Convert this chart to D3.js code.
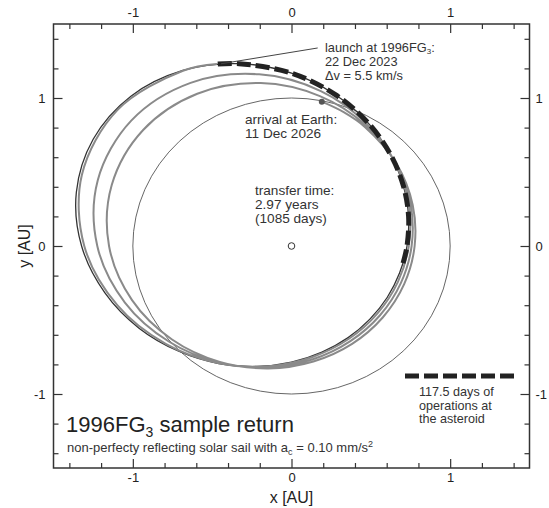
<!DOCTYPE html>
<html>
<head>
<meta charset="utf-8">
<script src="https://cdn.jsdelivr.net/npm/d3@7"></script>
<style>
  body { margin: 0; background: #fff; }
  svg { display: block; font-family: "Liberation Sans", Arial, Helvetica, sans-serif; }
  .tick text { font-size: 13px; fill: #222; }
  .tick line { stroke: #333; }
  .ann { fill: #333; }
</style>
</head>
<body>
<div id="chart"></div>
<script>
// axis ticks (AU)
const majorTicks = [-1, 0, 1];
const minorTicks = [-1.4, -1.2, -0.8, -0.6, -0.4, -0.2, 0.2, 0.4, 0.6, 0.8, 1.2, 1.4];

// Earth orbit radius (AU)
const earthRadius = 1;

// 1996FG3 orbit (x, y in AU)
const asteroidOrbit = [
  [0.728, 0], [0.738, 0.198], [0.705, 0.407], [0.622, 0.622], [0.481, 0.834], [0.274, 1.024],
  [0, 1.168], [-0.330, 1.232], [-0.685, 1.186], [-1.012, 1.012], [-1.250, 0.721], [-1.356, 0.363],
  [-1.323, 0], [-1.177, -0.315], [-0.961, -0.555], [-0.711, -0.711], [-0.458, -0.794], [-0.218, -0.814],
  [0, -0.785], [0.192, -0.717], [0.357, -0.619], [0.494, -0.494], [0.603, -0.348], [0.681, -0.183]
];

// 117.5 days of operations at the asteroid
const stayArc = [
  [0.703, -0.116], [0.728, 0], [0.738, 0.198], [0.705, 0.407], [0.622, 0.622], [0.481, 0.834],
  [0.274, 1.024], [0, 1.168], [-0.330, 1.232], [-0.470, 1.229]
];

// solar sail return trajectory, launch -> arrival at Earth
const transferPath = [
  [-0.470, 1.229], [-0.684, 1.184], [-1.096, 0.920], [-1.321, 0.481], [-1.306, 0], [-1.098, -0.400],
  [-0.790, -0.663], [-0.457, -0.792], [-0.143, -0.812], [0.132, -0.750], [0.362, -0.627], [0.542, -0.455],
  [0.670, -0.244], [0.739, 0], [0.740, 0.269], [0.658, 0.552], [0.476, 0.824], [0.185, 1.047],
  [-0.204, 1.160], [-0.636, 1.102], [-1.010, 0.847], [-1.221, 0.444], [-1.224, 0], [-1.050, -0.382],
  [-0.771, -0.647], [-0.455, -0.787], [-0.144, -0.819], [0.135, -0.765], [0.371, -0.643], [0.558, -0.468],
  [0.689, -0.251], [0.757, 0], [0.752, 0.274], [0.660, 0.554], [0.470, 0.814], [0.179, 1.013],
  [-0.194, 1.101], [-0.594, 1.029], [-0.935, 0.784], [-1.133, 0.412], [-1.150, 0], [-1.005, -0.366],
  [-0.753, -0.632], [-0.452, -0.783], [-0.146, -0.827], [0.138, -0.780], [0.382, -0.661], [0.575, -0.483],
  [0.710, -0.258], [0.776, 0], [0.764, 0.278], [0.662, 0.556], [0.464, 0.803], [0.329, 0.904],
  [0.191, 0.975]
];

const sun = [0, 0];
const launchPoint = [-0.445, 1.231];
const launchLabelAnchor = [0.165, 1.338];
const arrivalPoint = [0.191, 0.975];

const launchLines = ['launch at 1996FG', '22 Dec 2023', '\u0394v = 5.5 km/s'];
const arrivalLines = ['arrival at Earth:', '11 Dec 2026'];
const transferLines = ['transfer time:', '2.97 years', '(1085 days)'];
const legendLines = ['117.5 days of', 'operations at', 'the asteroid'];

const width = 549, height = 508;
const plotLeft = 53.5, plotRight = 529.5, plotTop = 24, plotBottom = 468;

const svg = d3.select('#chart').append('svg')
  .attr('width', width)
  .attr('height', height);

const x = d3.scaleLinear().domain([-1.5, 1.5]).range([plotLeft, plotRight]);
const y = d3.scaleLinear().domain([-1.5, 1.5]).range([plotBottom, plotTop]);

const fmt = d => String(d);

// axes, ticks pointing inward
function addAxis(axisFn, scale, transform, pad) {
  svg.append('g').attr('transform', transform)
    .call(axisFn(scale).tickValues(minorTicks).tickSize(-5).tickFormat(''))
    .call(g => g.select('.domain').remove());
  svg.append('g').attr('transform', transform)
    .call(axisFn(scale).tickValues(majorTicks).tickSize(-9).tickPadding(pad).tickFormat(fmt))
    .call(g => g.select('.domain').remove());
}
addAxis(d3.axisBottom, x, `translate(0,${plotBottom})`, 5);
addAxis(d3.axisTop, x, `translate(0,${plotTop})`, 7);
addAxis(d3.axisLeft, y, `translate(${plotLeft},0)`, 8);
addAxis(d3.axisRight, y, `translate(${plotRight},0)`, 6);
svg.selectAll('.tick line').attr('stroke-width', 1.2);

const line = d3.line().x(d => x(d[0])).y(d => y(d[1]));

// Earth orbit
svg.append('ellipse')
  .attr('cx', x(0)).attr('cy', y(0))
  .attr('rx', x(earthRadius) - x(0))
  .attr('ry', y(0) - y(earthRadius))
  .attr('fill', 'none')
  .attr('stroke', '#555')
  .attr('stroke-width', 0.9);

// asteroid orbit
svg.append('path')
  .datum(asteroidOrbit)
  .attr('d', line.curve(d3.curveCatmullRomClosed.alpha(0.5)))
  .attr('fill', 'none')
  .attr('stroke', '#333')
  .attr('stroke-width', 1.3);

// transfer trajectory
svg.append('path')
  .datum(transferPath)
  .attr('d', line.curve(d3.curveCatmullRom.alpha(0.5)))
  .attr('fill', 'none')
  .attr('stroke', '#8a8a8a')
  .attr('stroke-width', 2);

// stay at asteroid
svg.append('path')
  .datum(stayArc)
  .attr('d', line.curve(d3.curveCatmullRom.alpha(0.5)))
  .attr('fill', 'none')
  .attr('stroke', '#222')
  .attr('stroke-width', 5)
  .attr('stroke-dasharray', '14,5');

// launch leader line
svg.append('line')
  .attr('x1', x(launchPoint[0])).attr('y1', y(launchPoint[1]))
  .attr('x2', x(launchLabelAnchor[0])).attr('y2', y(launchLabelAnchor[1]))
  .attr('stroke', '#444')
  .attr('stroke-width', 1);

// Sun and arrival
svg.append('circle')
  .attr('cx', x(sun[0])).attr('cy', y(sun[1])).attr('r', 3.3)
  .attr('fill', '#fff').attr('stroke', '#333').attr('stroke-width', 1);
svg.append('circle')
  .attr('cx', x(arrivalPoint[0])).attr('cy', y(arrivalPoint[1])).attr('r', 3)
  .attr('fill', '#555');

// frame
svg.append('rect')
  .attr('x', plotLeft).attr('y', plotTop)
  .attr('width', plotRight - plotLeft).attr('height', plotBottom - plotTop)
  .attr('fill', 'none')
  .attr('stroke', '#333')
  .attr('stroke-width', 1.5);

// annotations
function block(lines, x0, y0, dy, size) {
  const t = svg.append('text').attr('class', 'ann').attr('font-size', size);
  lines.forEach((s, i) => {
    t.append('tspan').attr('x', x0).attr('y', y0 + i * dy).text(s);
  });
  return t;
}
const lt = block(launchLines, 325, 52, 14, 12.8);
lt.select('tspan').append('tspan').attr('font-size', 8).attr('dy', 2).text('3');
lt.select('tspan').append('tspan').attr('dy', -2).text(':');

block(arrivalLines, 245, 124, 14, 13.6);
block(transferLines, 255, 195, 14, 13.6);

// legend
svg.append('line')
  .attr('x1', 405).attr('x2', 514).attr('y1', 376).attr('y2', 376)
  .attr('stroke', '#222').attr('stroke-width', 5).attr('stroke-dasharray', '14,5');
block(legendLines, 419, 396, 13.5, 12.6);

// title
const title = svg.append('text').attr('x', 66).attr('y', 432)
  .attr('font-size', 22).attr('fill', '#222');
title.append('tspan').text('1996FG');
title.append('tspan').attr('font-size', 14).attr('dy', 5).text('3');
title.append('tspan').attr('dy', -5).text(' sample return');

const sub = svg.append('text').attr('x', 67).attr('y', 452)
  .attr('font-size', 13).attr('fill', '#333');
sub.append('tspan').text('non-perfecty reflecting solar sail with a');
sub.append('tspan').attr('font-size', 9).attr('dy', 2.5).text('c');
sub.append('tspan').attr('dy', -2.5).text(' = 0.10 mm/s');
sub.append('tspan').attr('font-size', 9).attr('dy', -5).text('2');

// axis titles
svg.append('text')
  .attr('x', x(0)).attr('y', 503)
  .attr('text-anchor', 'middle').attr('font-size', 16).attr('fill', '#222')
  .text('x [AU]');
svg.append('text')
  .attr('transform', `translate(30,${y(0)}) rotate(-90)`)
  .attr('text-anchor', 'middle').attr('font-size', 16).attr('fill', '#222')
  .text('y [AU]');
</script>
</body>
</html>
